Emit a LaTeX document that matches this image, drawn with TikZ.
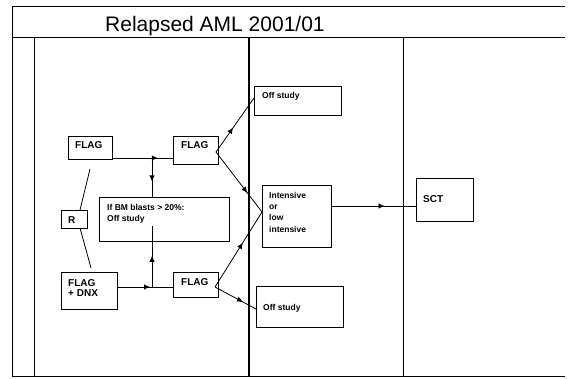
\documentclass[tikz,border=0pt]{standalone}
\usepackage{fontspec}
\setmainfont{Liberation Sans}
\usetikzlibrary{arrows.meta,decorations.markings}
\tikzset{
  frameline/.style={line width=0.8pt},
  boxnode/.style={draw, line width=0.9pt, anchor=north west, inner sep=0pt, outer sep=0pt},
  txt/.style={anchor=base west, inner sep=0pt, font=\bfseries\fontsize{8.5}{10}\selectfont},
  bigtxt/.style={anchor=base west, inner sep=0pt, font=\bfseries\fontsize{10}{11}\selectfont},
  conn/.style={line width=0.8pt},
  midarrow/.style={postaction={decorate}, decoration={markings, mark=at position #1 with {\arrow{Latex[length=6pt,width=5.5pt]}}}}
}
\begin{document}
\begin{tikzpicture}[x=1pt,y=-1pt]
\useasboundingbox (0,0) rectangle (569,379);
% frame
\draw[frameline] (12,6) -- (565,6);
\draw[frameline] (12,37) -- (565,37);
\draw[frameline] (12,376) -- (565,376);
\draw[frameline] (12,6) -- (12,376);
\draw[frameline] (34,37) -- (34,376);
\draw[line width=1.5pt] (249,37) -- (249,376);
\draw[frameline] (403,37) -- (403,376);
\node[anchor=base west, inner sep=0pt, font=\fontsize{21}{24}\selectfont] (title) at (105,32) {Relapsed AML 2001/01};
% boxes
\node[boxnode, minimum width=44pt, minimum height=23pt] (flagA) at (68,136) {};
\node[boxnode, minimum width=45pt, minimum height=28pt] (flagB) at (173,136) {};
\node[boxnode, minimum width=26pt, minimum height=18pt] (R) at (61,210) {};
\node[boxnode, minimum width=130pt, minimum height=44pt] (bm) at (99,197) {};
\node[boxnode, minimum width=56pt, minimum height=37pt] (flagD) at (61,272) {};
\node[boxnode, minimum width=45pt, minimum height=25pt] (flagC) at (173,272) {};
\node[boxnode, minimum width=87pt, minimum height=29pt] (offA) at (254,86) {};
\node[boxnode, minimum width=69pt, minimum height=62pt] (int) at (262,185) {};
\node[boxnode, minimum width=87pt, minimum height=41pt] (offB) at (256,286) {};
\node[boxnode, minimum width=57pt, minimum height=43pt] (sct) at (416,178) {};
% texts
\node[bigtxt] (tA) at (75,149) {FLAG};
\node[bigtxt] (tB) at (181,149) {FLAG};
\node[bigtxt] (tR) at (68,223) {R};
\node[txt] (tbm1) at (107,210) {If BM blasts > 20\%:};
\node[txt] (tbm2) at (107,221) {Off study};
\node[bigtxt] (tD1) at (68,286) {FLAG};
\node[bigtxt] (tD2) at (68,296) {+ DNX};
\node[bigtxt] (tC) at (181,285) {FLAG};
\node[txt] (toA) at (262,99) {Off study};
\node[txt] (ti1) at (269,198) {Intensive};
\node[txt] (ti2) at (269,209) {or};
\node[txt] (ti3) at (269,220) {low};
\node[txt] (ti4) at (269,232) {intensive};
\node[txt] (toB) at (263,310) {Off study};
\node[bigtxt] (tS) at (423,203) {SCT};
% junctions
\coordinate (jt) at (152,158);
\coordinate (jb) at (152,287);
\coordinate (bmin) at (152,226);
\coordinate (nB) at ([xshift=-2pt,yshift=-2pt]flagB.east);
\coordinate (nC) at ([xshift=-3pt,yshift=-2.5pt]flagC.east);
\coordinate (ip) at ([yshift=4pt]int.west);
\coordinate (ie) at ([yshift=10pt]int.east);
% connectors
\draw[conn] ([xshift=6pt]R.north) -- ([yshift=-10pt]flagA.south);
\draw[conn] ([xshift=6pt]R.south) -- ([xshift=2pt,yshift=4pt]flagD.north);
\draw[conn, midarrow=0.75] (flagA.east |- jt) -- (flagB.west |- jt);
\draw[conn, midarrow=0.6] (jt) -- (bm.north -| jt);
\draw[conn, midarrow=0.59] (flagD.east |- jb) -- (flagC.west |- jb);
\draw[conn, midarrow=0.51] (jb) -- (bmin);
\draw[conn, midarrow=0.45] (nB) -- ([yshift=2.5pt]offA.west);
\draw[conn, midarrow=0.68] (nB) -- (ip);
\draw[conn, midarrow=0.59] (nC) -- (ip);
\draw[conn, midarrow=0.68] (nC) -- ([yshift=-2.5pt]offB.west);
\draw[conn, midarrow=0.63] (ie) -- (sct.west |- ie);
\end{tikzpicture}
\end{document}
